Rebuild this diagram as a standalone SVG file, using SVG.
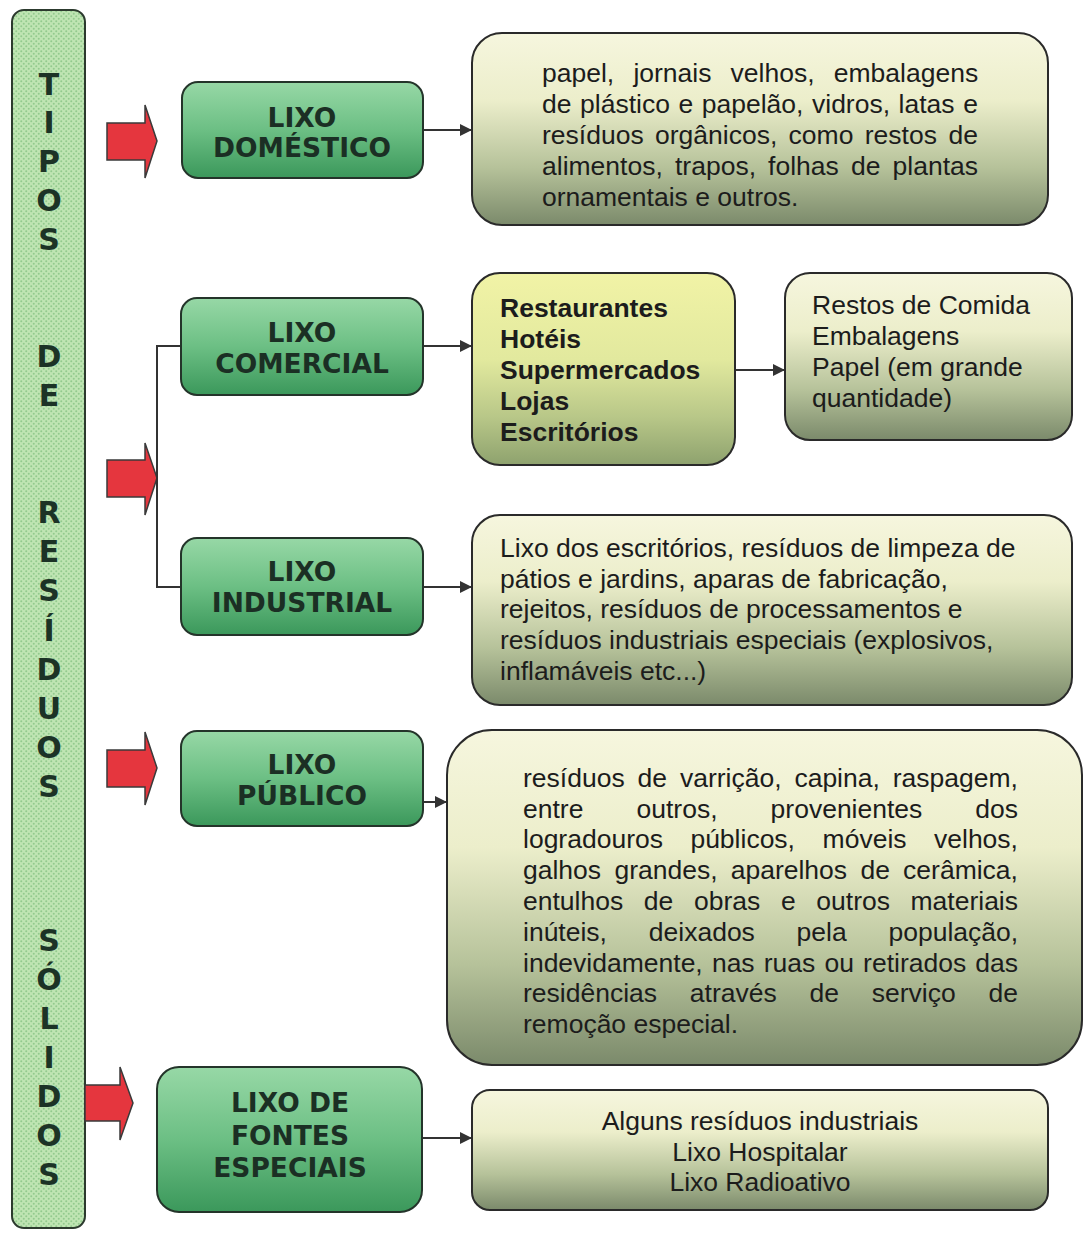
<svg xmlns="http://www.w3.org/2000/svg" width="1088" height="1233" viewBox="0 0 1088 1233">
<style>
.bar{fill:url(#dots);stroke:#2c3a2e;stroke-width:2}
.vl{font-family:"DejaVu Sans",Verdana,sans-serif;font-weight:bold;font-size:30px;fill:#1c3326;text-anchor:middle}
.gbox{fill:url(#gGreen);stroke:#24342a;stroke-width:2}
.glab{font-family:"DejaVu Sans",Verdana,sans-serif;font-weight:bold;font-size:26.5px;fill:#1b2f24;text-anchor:middle}
.cbox{fill:url(#gCream);stroke:#2a2a2a;stroke-width:2}
.ybox{fill:url(#gYellow);stroke:#2a2a2a;stroke-width:2}
.tx{font-family:"Liberation Sans",Arial,sans-serif;font-size:26.5px;fill:#1c1c1c}
.bx{font-family:"Liberation Sans",Arial,sans-serif;font-size:26.5px;font-weight:bold;fill:#1c1c1c}
.red{fill:#e5363e;stroke:#3a3a3a;stroke-width:1.5;stroke-linejoin:miter}
.con{fill:none;stroke:#333;stroke-width:2}
</style>
<defs>
<pattern id="dots" width="5" height="5" patternUnits="userSpaceOnUse">
<rect width="5" height="5" fill="#bfe5b3"/>
<circle cx="1.25" cy="1.25" r="1" fill="#93ca8e"/>
<circle cx="3.75" cy="3.75" r="1" fill="#93ca8e"/>
</pattern>
<linearGradient id="gGreen" x1="0" y1="0" x2="0" y2="1">
<stop offset="0" stop-color="#97d8a6"/>
<stop offset="0.5" stop-color="#6cbf84"/>
<stop offset="1" stop-color="#3b985b"/>
</linearGradient>
<linearGradient id="gCream" x1="0" y1="0" x2="0" y2="1">
<stop offset="0" stop-color="#f6f6de"/>
<stop offset="0.35" stop-color="#eceecb"/>
<stop offset="0.7" stop-color="#b6c29a"/>
<stop offset="1" stop-color="#7b8a6b"/>
</linearGradient>
<linearGradient id="gYellow" x1="0" y1="0" x2="0" y2="1">
<stop offset="0" stop-color="#f1f3a6"/>
<stop offset="0.45" stop-color="#e2e99e"/>
<stop offset="0.75" stop-color="#b8c788"/>
<stop offset="1" stop-color="#8ea26e"/>
</linearGradient>
<marker id="ah" viewBox="0 0 10 10" refX="10" refY="5" markerWidth="13" markerHeight="12" markerUnits="userSpaceOnUse" orient="auto">
<path d="M0,0 L10,5 L0,10 z" fill="#333"/>
</marker>
</defs>
<rect width="1088" height="1233" fill="#ffffff"/>

<g id="title-bar">
<rect class="bar" x="12" y="10" width="73" height="1218" rx="12"/>
<text class="vl" x="49" y="95">T</text>
<text class="vl" x="49" y="133">I</text>
<text class="vl" x="49" y="172">P</text>
<text class="vl" x="49" y="211">O</text>
<text class="vl" x="49" y="250">S</text>
<text class="vl" x="49" y="367">D</text>
<text class="vl" x="49" y="406">E</text>
<text class="vl" x="49" y="523">R</text>
<text class="vl" x="49" y="562">E</text>
<text class="vl" x="49" y="601">S</text>
<text class="vl" x="49" y="641">Í</text>
<text class="vl" x="49" y="680">D</text>
<text class="vl" x="49" y="719">U</text>
<text class="vl" x="49" y="758">O</text>
<text class="vl" x="49" y="797">S</text>
<text class="vl" x="49" y="951">S</text>
<text class="vl" x="49" y="990">Ó</text>
<text class="vl" x="49" y="1029">L</text>
<text class="vl" x="49" y="1068">I</text>
<text class="vl" x="49" y="1107">D</text>
<text class="vl" x="49" y="1146">O</text>
<text class="vl" x="49" y="1185">S</text>
</g>

<g id="red-arrows">
<path class="red" d="M107,123 H145 V105 L157,141 L145,178 V160 H107 Z"/>
<path class="red" d="M107,460 H145 V443 L157,478 L145,515 V497 H107 Z"/>
<path class="red" d="M107,750 H145 V732 L157,768 L145,805 V787 H107 Z"/>
<path class="red" d="M85,1085 H120 V1067 L133,1103 L120,1140 V1121 H85 Z"/>
</g>

<g id="connectors">
<path class="con" d="M181,346 H157 V587 H181"/>
<line class="con" x1="423" y1="130" x2="472" y2="130" marker-end="url(#ah)"/>
<line class="con" x1="423" y1="346" x2="472" y2="346" marker-end="url(#ah)"/>
<line class="con" x1="735" y1="370" x2="785" y2="370" marker-end="url(#ah)"/>
<line class="con" x1="423" y1="587" x2="472" y2="587" marker-end="url(#ah)"/>
<line class="con" x1="422" y1="802" x2="447" y2="802" marker-end="url(#ah)"/>
<line class="con" x1="422" y1="1138" x2="472" y2="1138" marker-end="url(#ah)"/>
</g>

<g id="lixo-domestico">
<rect class="gbox" x="182" y="82" width="241" height="96" rx="16"/>
<text class="glab" x="302" y="127">LIXO</text>
<text class="glab" x="302" y="157">DOMÉSTICO</text>
</g>
<g id="lixo-comercial">
<rect class="gbox" x="181" y="298" width="242" height="97" rx="16"/>
<text class="glab" x="302" y="342">LIXO</text>
<text class="glab" x="302" y="373">COMERCIAL</text>
</g>
<g id="lixo-industrial">
<rect class="gbox" x="181" y="538" width="242" height="97" rx="16"/>
<text class="glab" x="302" y="581">LIXO</text>
<text class="glab" x="302" y="612">INDUSTRIAL</text>
</g>
<g id="lixo-publico">
<rect class="gbox" x="181" y="731" width="242" height="95" rx="16"/>
<text class="glab" x="302" y="774">LIXO</text>
<text class="glab" x="302" y="805">PÚBLICO</text>
</g>
<g id="lixo-especiais">
<rect class="gbox" x="157" y="1067" width="265" height="145" rx="22"/>
<text class="glab" x="290" y="1112">LIXO DE</text>
<text class="glab" x="290" y="1145">FONTES</text>
<text class="glab" x="290" y="1177">ESPECIAIS</text>
</g>

<g id="desc-domestico">
<rect class="cbox" x="472" y="33" width="576" height="192" rx="30"/>
<text class="tx" y="82"><tspan x="542">papel,</tspan><tspan x="633.4">jornais</tspan><tspan x="730.6">velhos,</tspan><tspan x="833.8">embalagens</tspan></text>
<text class="tx" x="542" y="113" word-spacing="1.2">de plástico e papelão, vidros, latas e</text>
<text class="tx" y="144"><tspan x="542">resíduos</tspan><tspan x="655">orgânicos,</tspan><tspan x="788.6">como</tspan><tspan x="864.8">restos</tspan><tspan x="948.4">de</tspan></text>
<text class="tx" y="175"><tspan x="542">alimentos,</tspan><tspan x="675">trapos,</tspan><tspan x="768.1">folhas</tspan><tspan x="851">de</tspan><tspan x="892.6">plantas</tspan></text>
<text class="tx" x="542" y="206">ornamentais e outros.</text>
</g>

<g id="comercial-locais">
<rect class="ybox" x="472" y="273" width="263" height="192" rx="28"/>
<text class="bx" x="500" y="317">Restaurantes</text>
<text class="bx" x="500" y="348">Hotéis</text>
<text class="bx" x="500" y="379">Supermercados</text>
<text class="bx" x="500" y="410">Lojas</text>
<text class="bx" x="500" y="441">Escritórios</text>
</g>

<g id="comercial-residuos">
<rect class="cbox" x="785" y="273" width="287" height="167" rx="25"/>
<text class="tx" x="812" y="314">Restos de Comida</text>
<text class="tx" x="812" y="345">Embalagens</text>
<text class="tx" x="812" y="376">Papel (em grande</text>
<text class="tx" x="812" y="407">quantidade)</text>
</g>

<g id="desc-industrial">
<rect class="cbox" x="472" y="515" width="600" height="190" rx="28"/>
<text class="tx" x="500" y="557">Lixo dos escritórios, resíduos de limpeza de</text>
<text class="tx" x="500" y="588">pátios e jardins, aparas de fabricação,</text>
<text class="tx" x="500" y="618">rejeitos, resíduos de processamentos e</text>
<text class="tx" x="500" y="649">resíduos industriais especiais (explosivos,</text>
<text class="tx" x="500" y="680">inflamáveis etc...)</text>
</g>

<g id="desc-publico">
<rect class="cbox" x="447" y="730" width="635" height="335" rx="45"/>
<text class="tx" y="787"><tspan x="523">resíduos</tspan><tspan x="637.5">de</tspan><tspan x="679.9">varrição,</tspan><tspan x="794.4">capina,</tspan><tspan x="892.7">raspagem,</tspan></text>
<text class="tx" y="818"><tspan x="523">entre</tspan><tspan x="636.5">outros,</tspan><tspan x="770.6">provenientes</tspan><tspan x="975.3">dos</tspan></text>
<text class="tx" y="848"><tspan x="523">logradouros</tspan><tspan x="690.4">públicos,</tspan><tspan x="822.6">móveis</tspan><tspan x="934">velhos,</tspan></text>
<text class="tx" y="879"><tspan x="523">galhos</tspan><tspan x="614.4">grandes,</tspan><tspan x="730.7">aparelhos</tspan><tspan x="860.4">de</tspan><tspan x="903.1">cerâmica,</tspan></text>
<text class="tx" y="910"><tspan x="523">entulhos</tspan><tspan x="643.8">de</tspan><tspan x="694">obras</tspan><tspan x="780.9">e</tspan><tspan x="816.3">outros</tspan><tspan x="910.5">materiais</tspan></text>
<text class="tx" y="941"><tspan x="523">inúteis,</tspan><tspan x="648.8">deixados</tspan><tspan x="796.6">pela</tspan><tspan x="888.5">população,</tspan></text>
<text class="tx" y="972"><tspan x="523">indevidamente,</tspan><tspan x="711.9">nas</tspan><tspan x="763.8">ruas</tspan><tspan x="824.4">ou</tspan><tspan x="863.1">retirados</tspan><tspan x="975.3">das</tspan></text>
<text class="tx" y="1002"><tspan x="523">residências</tspan><tspan x="689.8">através</tspan><tspan x="809.5">de</tspan><tspan x="871.8">serviço</tspan><tspan x="988.5">de</tspan></text>
<text class="tx" x="523" y="1033">remoção especial.</text>
</g>

<g id="desc-especiais">
<rect class="cbox" x="472" y="1090" width="576" height="120" rx="18"/>
<text class="tx" x="760" y="1130" text-anchor="middle">Alguns resíduos industriais</text>
<text class="tx" x="760" y="1161" text-anchor="middle">Lixo Hospitalar</text>
<text class="tx" x="760" y="1191" text-anchor="middle">Lixo Radioativo</text>
</g>
</svg>
